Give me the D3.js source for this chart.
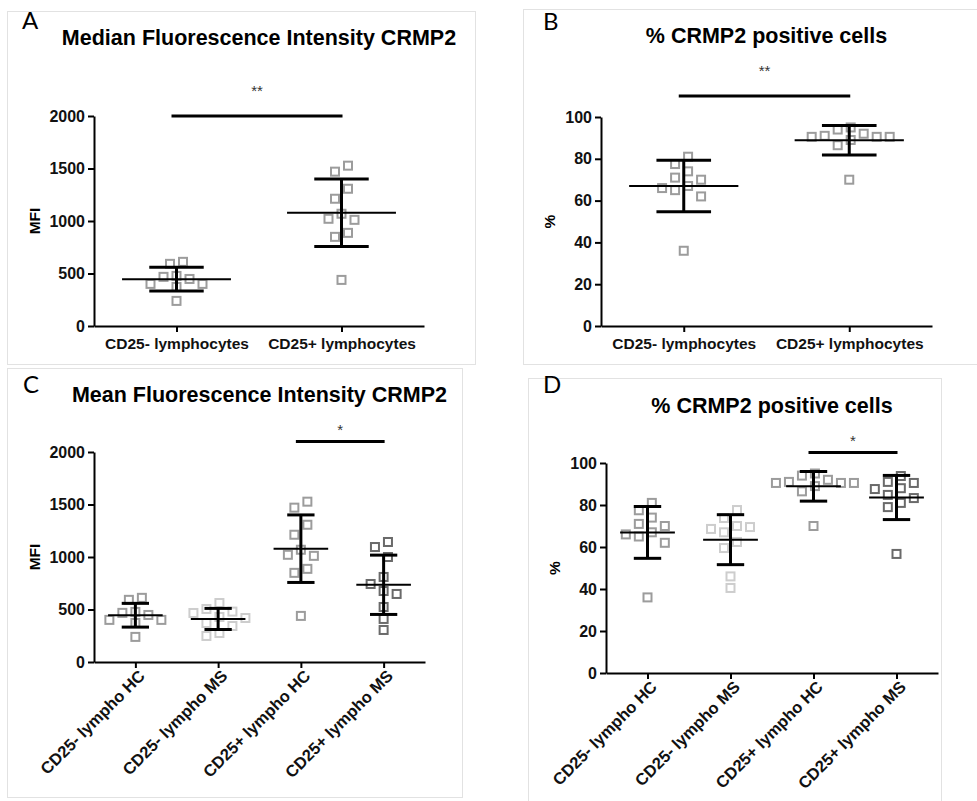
<!DOCTYPE html>
<html>
<head>
<meta charset="utf-8">
<script src="https://cdn.jsdelivr.net/npm/d3@7"></script>
<style>
  body { margin: 0; background: #fff; }
  svg { display: block; }
</style>
</head>
<body>
<div id="chart"></div>
<script>
// categories
const groupsTwo = ['CD25- lymphocytes', 'CD25+ lymphocytes'];
const groupsFour = ['CD25- lympho HC', 'CD25- lympho MS', 'CD25+ lympho HC', 'CD25+ lympho MS'];

// MFI values (healthy controls / MS patients)
const mfiHcNeg = [611, 592, 477, 448, 401, 401, 468, 372, 239];
const mfiHcPos = [1470, 1527, 1307, 1212, 1069, 1011, 1021, 887, 849, 439];
const mfiMsNeg = [562, 505, 467, 480, 419, 429, 343, 371, 248, 276];
const mfiMsPos = [1143, 1095, 1000, 810, 743, 648, 676, 524, 410, 305];

// % CRMP2 positive cells
const pctHcNeg = [81, 77.5, 74, 70, 71, 67, 65, 66, 62, 36];
const pctHcPos = [94, 95, 91, 90.5, 89, 90.5, 90.5, 92, 86.5, 70];
const pctMsNeg = [77.6, 73.8, 70, 67, 69.5, 68.6, 62.4, 59.5, 46, 40.5];
const pctMsPos = [93.8, 91, 90.5, 88, 87.6, 84.8, 83.3, 81, 79, 56.7];

// tick labels
const mfiTicks = [0, 500, 1000, 1500, 2000];
const pctTicks = [0, 20, 40, 60, 80, 100];

const W = 977, H = 801;
const FONT = '"Liberation Sans", Arial, sans-serif';
const colorHc = '#9c9c9c', colorMsNeg = '#cdcdcd', colorMsPos = '#6a6a6a';

const panels = [
  {
    letter: 'A', lx: 22, ly: 29,
    frame: [7, 11, 475, 364],
    title: 'Median Fluorescence Intensity CRMP2', titleY: 45,
    yLabel: 'MFI', yLabelX: 40,
    groups: groupsTwo, series: [mfiHcNeg, mfiHcPos], colors: [colorHc, colorHc],
    yMax: 2000, ticks: mfiTicks,
    left: 94, right: 424, top: 116, bottom: 326, rotate: false,
    sig: {a: 0, b: 1, level: 2000, label: '**', gap: 20}
  },
  {
    letter: 'B', lx: 543, ly: 30,
    frame: [523, 9, 990, 364],
    title: '% CRMP2 positive cells', titleY: 43,
    yLabel: '%', yLabelX: 555,
    groups: groupsTwo, series: [pctHcNeg, pctHcPos], colors: [colorHc, colorHc],
    yMax: 100, ticks: pctTicks,
    left: 601, right: 932, top: 117, bottom: 326, rotate: false,
    sig: {a: 0, b: 1, level: 110, label: '**', gap: 20}
  },
  {
    letter: 'C', lx: 23, ly: 393,
    frame: [7, 368, 462, 797],
    title: 'Mean Fluorescence Intensity CRMP2', titleY: 402,
    yLabel: 'MFI', yLabelX: 40,
    groups: groupsFour, series: [mfiHcNeg, mfiMsNeg, mfiHcPos, mfiMsPos],
    colors: [colorHc, colorMsNeg, colorHc, colorMsPos],
    yMax: 2000, ticks: mfiTicks,
    left: 94, right: 425, top: 452, bottom: 662, rotate: true,
    sig: {a: 2, b: 3, level: 2100, label: '*', gap: 7}
  },
  {
    letter: 'D', lx: 543, ly: 393,
    frame: [528, 378, 941, 820],
    title: '% CRMP2 positive cells', titleY: 413,
    yLabel: '%', yLabelX: 560,
    groups: groupsFour, series: [pctHcNeg, pctMsNeg, pctHcPos, pctMsPos],
    colors: [colorHc, colorMsNeg, colorHc, colorMsPos],
    yMax: 100, ticks: pctTicks,
    left: 606, right: 938, top: 463, bottom: 673, rotate: true,
    sig: {a: 2, b: 3, level: 105, label: '*', gap: 7}
  }
];

const svg = d3.select('#chart').append('svg')
  .attr('width', W)
  .attr('height', H);

svg.append('rect').attr('width', W).attr('height', H).attr('fill', '#fff');

// scatter like GraphPad: points close in value are pushed sideways,
// then every cluster is centred on the column
function swarm(values, y, h, dyMin) {
  const pts = values.map((v, i) => ({v: v, i: i, py: y(v), dx: 0}));
  const sorted = pts.slice().sort((a, b) => a.py - b.py);

  const clusters = [];
  let cur = null;
  sorted.forEach((p, k) => {
    if (!cur || p.py - sorted[k - 1].py >= dyMin) {
      cur = [];
      clusters.push(cur);
    }
    cur.push(p);
  });

  const slots = [0];
  for (let k = 1; k < 12; k++) slots.push(-k * h, k * h);

  clusters.forEach(c => {
    const placed = [];
    c.forEach(p => {
      const off = slots.find(s => placed.every(q =>
        Math.abs(q.dx - s) >= 2 * h - 1 || Math.abs(q.py - p.py) >= dyMin));
      p.dx = off;
      placed.push(p);
    });
    const shift = d3.mean(c, p => p.dx);
    c.forEach(p => { p.dx -= shift; });
  });
  return pts;
}

function drawPanel(cfg) {
  const g = svg.append('g');
  const [fx0, fy0, fx1, fy1] = cfg.frame;

  g.append('rect')
    .attr('x', fx0 + 0.5).attr('y', fy0 + 0.5)
    .attr('width', fx1 - fx0).attr('height', fy1 - fy0)
    .attr('fill', 'none')
    .attr('stroke', '#e2e2e2');

  g.append('text')
    .attr('x', cfg.lx).attr('y', cfg.ly)
    .attr('font-family', 'Lato, "Open Sans", sans-serif')
    .attr('font-size', 24)
    .text(cfg.letter);

  const x = d3.scalePoint()
    .domain(cfg.groups)
    .range([cfg.left, cfg.right])
    .padding(0.5);

  const y = d3.scaleLinear()
    .domain([0, cfg.yMax])
    .range([cfg.bottom, cfg.top]);

  g.append('text')
    .attr('x', (cfg.left + cfg.right) / 2).attr('y', cfg.titleY)
    .attr('text-anchor', 'middle')
    .attr('font-family', FONT).attr('font-weight', 'bold').attr('font-size', 21.5)
    .text(cfg.title);

  g.append('text')
    .attr('transform', `translate(${cfg.yLabelX},${(cfg.top + cfg.bottom) / 2}) rotate(-90)`)
    .attr('text-anchor', 'middle')
    .attr('font-family', FONT).attr('font-weight', 'bold').attr('font-size', 15.5)
    .text(cfg.yLabel);

  const gy = g.append('g')
    .attr('transform', `translate(${cfg.left},0)`)
    .call(d3.axisLeft(y).tickValues(cfg.ticks).tickFormat(d3.format('d'))
      .tickSize(6).tickSizeOuter(0).tickPadding(3));

  const gx = g.append('g')
    .attr('transform', `translate(0,${cfg.bottom})`)
    .call(d3.axisBottom(x).tickSize(6).tickSizeOuter(0).tickPadding(4));

  [gy, gx].forEach(a => {
    a.select('.domain').attr('stroke', '#000').attr('stroke-width', 2);
    a.selectAll('.tick line').attr('stroke', '#000').attr('stroke-width', 2);
    a.selectAll('text')
      .attr('fill', '#111')
      .attr('font-family', FONT).attr('font-weight', 'bold');
  });
  gy.selectAll('text').attr('font-size', 16);
  gx.selectAll('text').attr('font-size', 15.5);

  if (cfg.rotate) {
    gx.selectAll('.tick text')
      .attr('x', 0).attr('y', 0).attr('dy', 0)
      .attr('font-size', 16.5)
      .attr('text-anchor', 'end')
      .attr('transform', 'translate(10,15) rotate(-45)');
  } else {
    gx.selectAll('.tick text').attr('dy', '0.85em');
  }

  const step = x.step();

  cfg.series.forEach((vals, i) => {
    const cx = x(cfg.groups[i]);
    const pts = swarm(vals, y, 6.5, 11);

    g.append('g').selectAll('rect')
      .data(pts)
      .enter()
      .append('rect')
      .attr('x', d => cx + d.dx - 4)
      .attr('y', d => d.py - 4)
      .attr('width', 8)
      .attr('height', 8)
      .attr('fill', 'none')
      .attr('stroke', cfg.colors[i])
      .attr('stroke-width', 2);

    const mean = d3.mean(vals);
    const sd = d3.deviation(vals);
    const bars = g.append('g').attr('stroke', '#000');

    bars.append('line')
      .attr('x1', cx - step * 0.33).attr('x2', cx + step * 0.33)
      .attr('y1', y(mean)).attr('y2', y(mean))
      .attr('stroke-width', 2);
    bars.append('line')
      .attr('x1', cx).attr('x2', cx)
      .attr('y1', y(mean + sd)).attr('y2', y(mean - sd))
      .attr('stroke-width', 3);
    [mean + sd, mean - sd].forEach(v => {
      bars.append('line')
        .attr('x1', cx - step * 0.165).attr('x2', cx + step * 0.165)
        .attr('y1', y(v)).attr('y2', y(v))
        .attr('stroke-width', 3);
    });
  });

  // significance bar
  const s = cfg.sig;
  const sx1 = x(cfg.groups[s.a]) - 5, sx2 = x(cfg.groups[s.b]) + 1;
  g.append('line')
    .attr('x1', sx1).attr('x2', sx2)
    .attr('y1', y(s.level)).attr('y2', y(s.level))
    .attr('stroke', '#000').attr('stroke-width', 3);
  g.append('text')
    .attr('x', (sx1 + sx2) / 2).attr('y', y(s.level) - s.gap)
    .attr('text-anchor', 'middle')
    .attr('font-family', FONT).attr('font-size', 15).attr('fill', '#333')
    .text(s.label);
}

panels.forEach(drawPanel);
</script>
</body>
</html>
